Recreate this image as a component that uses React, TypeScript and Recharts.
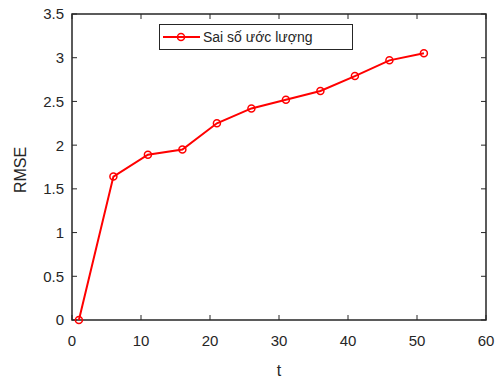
import { CartesianGrid, Legend, Line, LineChart, ReferenceArea, XAxis, YAxis } from 'recharts'

// estimation error over time
const tValues = [1, 6, 11, 16, 21, 26, 31, 36, 41, 46, 51]
const rmseValues = [0, 1.64, 1.89, 1.95, 2.25, 2.42, 2.52, 2.62, 2.79, 2.97, 3.05]
const xTicks = [0, 10, 20, 30, 40, 50, 60]
const yTicks = [0, 0.5, 1, 1.5, 2, 2.5, 3, 3.5]
const seriesName = 'Sai số ước lượng'
const xLabel = 't'
const yLabel = 'RMSE'

const FONT = '"Liberation Sans", Arial, Helvetica, sans-serif'
const AXIS = '#262626'
const RED = '#ff0000'
const TICK_LEN = 5

const W = 503
const H = 378
const MARGIN = { top: 14, right: 17, bottom: 0, left: 0 }
const Y_AXIS_W = 72
const X_AXIS_H = 58
const PLOT_W = W - MARGIN.left - MARGIN.right - Y_AXIS_W
const PLOT_H = H - MARGIN.top - MARGIN.bottom - X_AXIS_H

const data = tValues.map((t, i) => ({ t, rmse: rmseValues[i] }))

function BottomTick({ x, y, payload }: any) {
  return (
    <text x={x} y={y + 26} textAnchor="middle" fill={AXIS} fontSize={15} fontFamily={FONT}>
      {payload.value}
    </text>
  )
}

function LeftTick({ x, y, payload }: any) {
  return (
    <text x={x - 8} y={y} dy="0.36em" textAnchor="end" fill={AXIS} fontSize={15} fontFamily={FONT}>
      {payload.value}
    </text>
  )
}

function YTitle({ viewBox }: any) {
  const cx = 20
  const cy = viewBox.y + viewBox.height / 2 + 3
  return (
    <text
      x={cx}
      y={cy}
      transform={`rotate(-90 ${cx} ${cy})`}
      textAnchor="middle"
      dy="0.36em"
      fill={AXIS}
      fontSize={16}
      fontFamily={FONT}
    >
      {yLabel}
    </text>
  )
}

function XTitle({ viewBox }: any) {
  return (
    <text
      x={viewBox.x + viewBox.width / 2}
      y={H - 2}
      textAnchor="middle"
      fill={AXIS}
      fontSize={16}
      fontFamily={FONT}
    >
      {xLabel}
    </text>
  )
}

function LegendBox() {
  return (
    <div
      style={{
        width: 192,
        height: 24,
        border: `1.5px solid ${AXIS}`,
        background: '#fff',
        display: 'flex',
        alignItems: 'center',
        fontFamily: FONT,
        fontSize: 14,
        color: AXIS,
      }}
    >
      <svg width={42} height={24} style={{ display: 'block' }}>
        <line x1={3} x2={40} y1={12} y2={12} stroke={RED} strokeWidth={2} />
        <circle cx={21} cy={12} r={3.5} fill="none" stroke={RED} strokeWidth={1.5} />
      </svg>
      <span style={{ marginLeft: 1 }}>{seriesName}</span>
    </div>
  )
}

export default function App() {
  return (
    <div style={{ position: 'absolute', left: 0, top: 0, background: '#fff' }}>
      <LineChart width={W} height={H} data={data} margin={MARGIN}>
        {/* inward tick marks at both ends of every grid line */}
        <CartesianGrid
          horizontal={false}
          stroke={AXIS}
          strokeWidth={1}
          strokeDasharray={`${TICK_LEN} ${PLOT_H - 2 * TICK_LEN}`}
        />
        <CartesianGrid
          vertical={false}
          stroke={AXIS}
          strokeWidth={1}
          strokeDasharray={`${TICK_LEN} ${PLOT_W - 2 * TICK_LEN}`}
        />
        <XAxis
          dataKey="t"
          type="number"
          domain={[0, 60]}
          ticks={xTicks}
          interval={0}
          height={X_AXIS_H}
          tickSize={0}
          tickMargin={0}
          tickLine={false}
          axisLine={false}
          tick={<BottomTick />}
          label={<XTitle />}
        />
        <YAxis
          type="number"
          domain={[0, 3.5]}
          ticks={yTicks}
          interval={0}
          width={Y_AXIS_W}
          tickSize={0}
          tickMargin={0}
          tickLine={false}
          axisLine={false}
          tick={<LeftTick />}
          label={<YTitle />}
        />
        {/* axes box */}
        <ReferenceArea x1={0} x2={60} y1={0} y2={3.5} fill="none" stroke={AXIS} strokeWidth={1.5} />
        <Legend
          layout="horizontal"
          align="center"
          verticalAlign="middle"
          content={<LegendBox />}
          wrapperStyle={{ left: 159, top: 24, width: 'auto', height: 'auto' }}
        />
        <Line
          type="linear"
          dataKey="rmse"
          name={seriesName}
          stroke={RED}
          strokeWidth={2}
          dot={{ r: 3.5, fill: 'none', stroke: RED, strokeWidth: 1.5 }}
          isAnimationActive={false}
        />
      </LineChart>
    </div>
  )
}
